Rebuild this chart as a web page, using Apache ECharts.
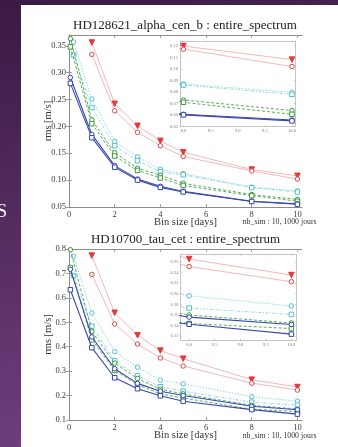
<!DOCTYPE html>
<html>
<head>
<meta charset="utf-8">
<script src="https://cdn.jsdelivr.net/npm/echarts@6/dist/echarts.min.js"></script>
<style>
  html, body { margin: 0; padding: 0; background: #fff; }
  #chart { width: 338px; height: 447px; }
</style>
</head>
<body>
<div id="chart"></div>
<script>
// Bin sizes (days) for each family of curves
const binsRed = [1, 2, 3, 4, 5, 8, 10];
const binsCyan = [0.2, 1, 2, 3, 4, 5, 8, 10];
const binsFine = [0.06, 1, 2, 3, 4, 5, 8, 10];

// HD128621_alpha_cen_b : rms [m/s]
const alphaRedTri = [0.356, 0.242, 0.201, 0.173, 0.152, 0.1197, 0.108];
const alphaRedCirc = [0.334, 0.229, 0.189, 0.164, 0.144, 0.117, 0.102];
const alphaCyanCirc = [0.357, 0.251, 0.172, 0.1435, 0.120, 0.112, 0.0869, 0.0797];
const alphaCyanSq = [0.333, 0.235, 0.164, 0.136, 0.1155, 0.110, 0.0860, 0.0780];
const alphaGreenCirc = [0.363, 0.212, 0.151, 0.122, 0.109, 0.094, 0.0731, 0.0640];
const alphaGreenSq = [0.348, 0.205, 0.145, 0.118, 0.104, 0.090, 0.0711, 0.0607];
const alphaBlueCirc = [0.291, 0.185, 0.127, 0.102, 0.0885, 0.079, 0.0607, 0.0558];
const alphaBlueSq = [0.280, 0.179, 0.124, 0.100, 0.0865, 0.078, 0.0602, 0.0550];

// HD10700_tau_cet : rms [m/s]
const tauRedTri = [0.773, 0.539, 0.447, 0.384, 0.351, 0.265, 0.235];
const tauRedCirc = [0.696, 0.493, 0.411, 0.354, 0.321, 0.251, 0.2225];
const tauCyanCirc = [0.770, 0.538, 0.380, 0.316, 0.263, 0.248, 0.196, 0.177];
const tauCyanSq = [0.691, 0.484, 0.343, 0.281, 0.236, 0.218, 0.173, 0.161];
const tauGreenCirc = [0.797, 0.463, 0.333, 0.270, 0.226, 0.207, 0.160, 0.145];
const tauGreenSq = [0.724, 0.428, 0.303, 0.245, 0.207, 0.190, 0.144, 0.1345];
const tauBlueCirc = [0.717, 0.440, 0.310, 0.250, 0.218, 0.200, 0.156, 0.142];
const tauBlueSq = [0.633, 0.396, 0.273, 0.228, 0.199, 0.177, 0.1426, 0.124];

// Tick labels
const mainXTicks = [0, 2, 4, 6, 8, 10];
const alphaYTicks = [0.05, 0.10, 0.15, 0.20, 0.25, 0.30, 0.35];
const tauYTicks = [0.1, 0.2, 0.3, 0.4, 0.5, 0.6, 0.7, 0.8];
const insetXTicks = [8.0, 8.5, 9.0, 9.5, 10.0];
const alphaInsetYTicks = [0.05, 0.06, 0.07, 0.08, 0.09, 0.10, 0.11, 0.12];
const tauInsetYTicks = [0.12, 0.14, 0.16, 0.18, 0.20, 0.22, 0.24, 0.26];

const titles = ['HD128621_alpha_cen_b : entire_spectrum', 'HD10700_tau_cet : entire_spectrum'];
const footNote = 'nb_sim : 10, 1000 jours';

const SERIF = '"Liberation Serif", "DejaVu Serif", serif';

// Marker / line appearance per curve
const looks = {
  redTri:    { symbol: 'triangle', rotate: 180, size: 5.5, edge: '#e03a3a', fill: '#e03a3a', line: 'rgba(232,96,96,0.5)', type: 'solid', width: 0.9, z: 3 },
  redCirc:   { symbol: 'circle', size: 4.5, edge: '#e04848', fill: '#fff', line: 'rgba(232,96,96,0.5)', type: 'solid', width: 0.9, z: 3 },
  cyanCirc:  { symbol: 'circle', size: 4.5, edge: '#52c2cc', fill: '#fff', line: 'rgba(82,194,204,0.7)', type: [1.5, 1.5], width: 0.9, z: 4 },
  cyanSq:    { symbol: 'rect', size: 4.5, edge: '#52c2cc', fill: '#fff', line: 'rgba(82,194,204,0.7)', type: [3, 1.5, 1, 1.5], width: 0.9, z: 4 },
  greenCirc: { symbol: 'circle', size: 4.5, edge: '#3a983a', fill: '#fff', line: '#4aa64a', type: [3, 2], width: 0.9, z: 5 },
  greenSq:   { symbol: 'rect', size: 4.5, edge: '#3a983a', fill: '#fff', line: '#4aa64a', type: [3, 2], width: 0.9, z: 5 },
  blueCirc:  { symbol: 'circle', size: 4.5, edge: '#3646ae', fill: '#fff', line: '#3848b0', type: 'solid', width: 1.1, z: 6 },
  blueSq:    { symbol: 'rect', size: 4.5, edge: '#3646ae', fill: '#fff', line: '#3848b0', type: 'solid', width: 1.1, z: 6 }
};

function makeSeries(xs, ys, look, axisIndex) {
  return {
    type: 'line',
    xAxisIndex: axisIndex,
    yAxisIndex: axisIndex,
    data: xs.map((x, i) => [x, ys[i]]),
    symbol: look.symbol,
    symbolSize: look.size,
    symbolRotate: look.rotate || 0,
    showAllSymbol: true,
    clip: true,
    animation: false,
    silent: true,
    z: look.z,
    lineStyle: { color: look.line, width: look.width, type: look.type },
    itemStyle: { color: look.fill, borderColor: look.edge, borderWidth: 1 }
  };
}

function curvesFor(d, axisIndex) {
  return [
    makeSeries(binsRed, d.redTri, looks.redTri, axisIndex),
    makeSeries(binsRed, d.redCirc, looks.redCirc, axisIndex),
    makeSeries(binsCyan, d.cyanCirc, looks.cyanCirc, axisIndex),
    makeSeries(binsCyan, d.cyanSq, looks.cyanSq, axisIndex),
    makeSeries(binsFine, d.greenCirc, looks.greenCirc, axisIndex),
    makeSeries(binsFine, d.greenSq, looks.greenSq, axisIndex),
    makeSeries(binsFine, d.blueCirc, looks.blueCirc, axisIndex),
    makeSeries(binsFine, d.blueSq, looks.blueSq, axisIndex)
  ];
}

const alphaSet = { redTri: alphaRedTri, redCirc: alphaRedCirc, cyanCirc: alphaCyanCirc, cyanSq: alphaCyanSq,
  greenCirc: alphaGreenCirc, greenSq: alphaGreenSq, blueCirc: alphaBlueCirc, blueSq: alphaBlueSq };
const tauSet = { redTri: tauRedTri, redCirc: tauRedCirc, cyanCirc: tauCyanCirc, cyanSq: tauCyanSq,
  greenCirc: tauGreenCirc, greenSq: tauGreenSq, blueCirc: tauBlueCirc, blueSq: tauBlueSq };

// One labelled axis plus a mirrored, unlabelled one so every panel gets a full tick frame
function axisPair(kind, gridIndex, min, max, ticks, digits, st) {
  const labelled = {
    type: 'value', gridIndex, min, max,
    position: kind === 'x' ? 'bottom' : 'left',
    axisLine: { show: true, lineStyle: { color: st.frame, width: 1 } },
    axisTick: { show: true, inside: true, length: st.tick, customValues: ticks, lineStyle: { color: st.frame, width: 0.8 } },
    axisLabel: { customValues: ticks, formatter: v => v.toFixed(digits), fontFamily: SERIF, fontSize: st.font, color: st.text, margin: st.margin },
    splitLine: { show: false }
  };
  if (st.name) {
    Object.assign(labelled, {
      name: st.name, nameLocation: 'middle', nameGap: st.nameGap,
      nameMoveOverlap: false,
      nameRotate: kind === 'y' ? 90 : 0,
      nameTextStyle: { fontFamily: SERIF, fontSize: 10.5, color: '#333' }
    });
  }
  const mirror = {
    type: 'value', gridIndex, min, max,
    position: kind === 'x' ? 'top' : 'right',
    axisLine: { show: true, lineStyle: { color: st.frame, width: 1 } },
    axisTick: { show: true, inside: true, length: st.tick, customValues: ticks, lineStyle: { color: st.frame, width: 0.8 } },
    axisLabel: { show: false },
    splitLine: { show: false }
  };
  return [labelled, mirror];
}

const mainStyle = { frame: '#8c8c8c', tick: 3, font: 8.5, text: '#3a3a3a', margin: 3 };
const insetStyle = { frame: '#c4c4c4', tick: 1.5, font: 4.6, text: '#808080', margin: 2 };

const grids = [
  { left: 69, top: 35, width: 233, height: 172 },          // alpha main
  { left: 180, top: 41, width: 115.5, height: 85.7, backgroundColor: '#fff', show: true, borderWidth: 0 },  // alpha inset
  { left: 69, top: 249, width: 233, height: 171 },         // tau main
  { left: 180.5, top: 254.3, width: 116, height: 85.7, backgroundColor: '#fff', show: true, borderWidth: 0 } // tau inset
];

const xAxes = [], yAxes = [];
function addPanel(gridIndex, xr, xt, xd, yr, yt, yd, st, xName, yName) {
  const xs = axisPair('x', gridIndex, xr[0], xr[1], xt, xd, Object.assign({}, st, xName ? { name: xName, nameGap: 10 } : {}));
  const ys = axisPair('y', gridIndex, yr[0], yr[1], yt, yd, Object.assign({}, st, yName ? { name: yName, nameGap: 15 } : {}));
  return { xs, ys };
}
const panels = [
  addPanel(0, [0, 10.2], mainXTicks, 0, [0.05, 0.37], alphaYTicks, 2, mainStyle, 'Bin size [days]', 'rms [m/s]'),
  addPanel(1, [7.935, 10.065], insetXTicks, 1, [0.05, 0.1241], alphaInsetYTicks, 2, insetStyle),
  addPanel(2, [0, 10.2], mainXTicks, 0, [0.1, 0.8], tauYTicks, 1, mainStyle, 'Bin size [days]', 'rms [m/s]'),
  addPanel(3, [7.83, 10.1], insetXTicks, 1, [0.113, 0.274], tauInsetYTicks, 2, insetStyle)
];
// labelled axes take even indices, mirrors odd indices
panels.forEach(p => { xAxes.push(p.xs[0], p.xs[1]); yAxes.push(p.ys[0], p.ys[1]); });

const series = [].concat(
  curvesFor(alphaSet, 0),
  curvesFor(alphaSet, 2),
  curvesFor(tauSet, 4),
  curvesFor(tauSet, 6)
);

const graphics = [
  { type: 'rect', z: -10, shape: { x: 0, y: 0, width: 338, height: 447 },
    style: { fill: new echarts.graphic.LinearGradient(0, 0, 0.35, 1, [
      { offset: 0, color: '#3a1a43' }, { offset: 1, color: '#70407f' }]) } },
  { type: 'rect', z: -9, shape: { x: 21, y: 5, width: 317, height: 442 }, style: { fill: '#ffffff' } },
  { type: 'text', z: -8, x: -3, y: 203, style: { text: 'S', fontFamily: SERIF, fontSize: 18, fill: '#ffffff' } },
  { type: 'text', x: 185, y: 25.5, style: { text: titles[0], align: 'center', verticalAlign: 'middle', fontFamily: SERIF, fontSize: 13, fill: '#222' } },
  { type: 'text', x: 185.5, y: 240, style: { text: titles[1], align: 'center', verticalAlign: 'middle', fontFamily: SERIF, fontSize: 13, fill: '#222' } },
  { type: 'text', x: 242.7, y: 221.7, style: { text: footNote, verticalAlign: 'middle', fontFamily: SERIF, fontSize: 7.8, fill: '#333' } },
  { type: 'text', x: 242.7, y: 436, style: { text: footNote, verticalAlign: 'middle', fontFamily: SERIF, fontSize: 7.8, fill: '#333' } }
];

const chart = echarts.init(document.getElementById('chart'), null, { renderer: 'canvas' });
chart.setOption({
  animation: false,
  backgroundColor: 'transparent',
  grid: grids,
  xAxis: xAxes,
  yAxis: yAxes,
  series,
  graphic: graphics
});
</script>
</body>
</html>
